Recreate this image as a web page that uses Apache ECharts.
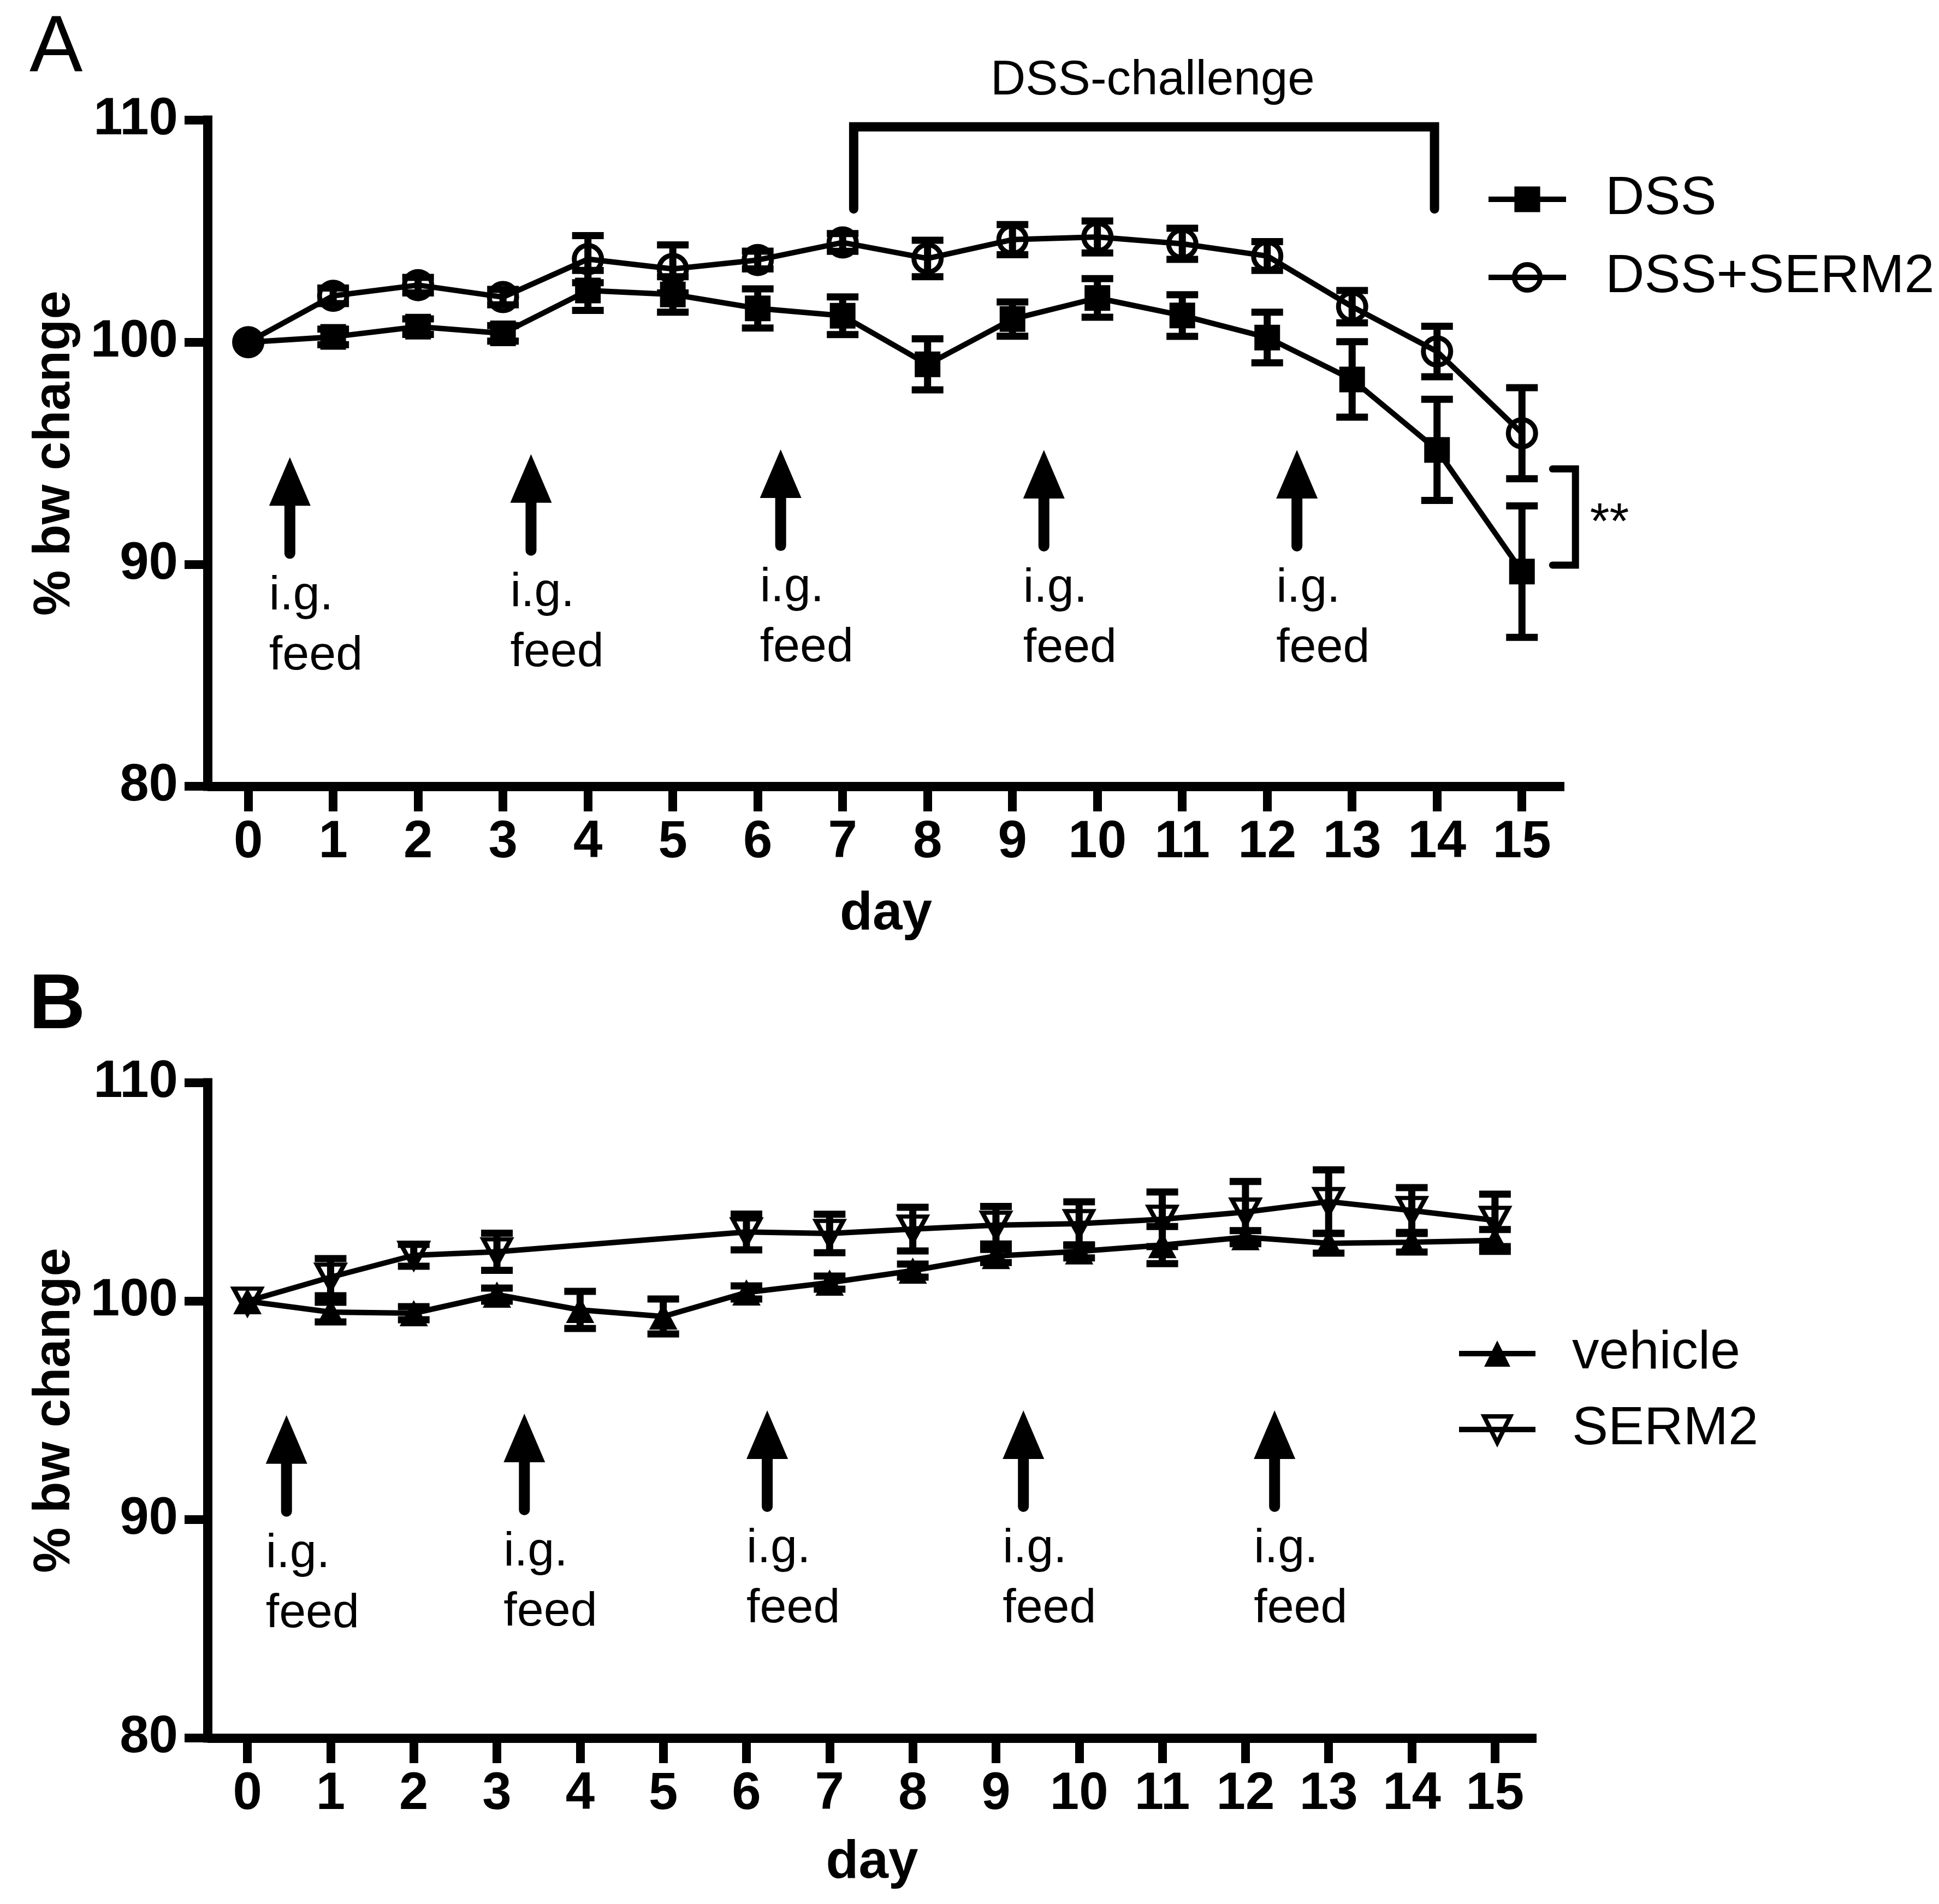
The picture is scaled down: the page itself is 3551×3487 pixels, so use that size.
<!DOCTYPE html>
<html><head><meta charset="utf-8">
<script src="https://cdn.jsdelivr.net/npm/echarts@6/dist/echarts.min.js"></script>
<style>html,body{margin:0;padding:0;background:#fff}#c{width:3551px;height:3487px}</style>
</head><body><div id="c"></div>
<script>
// ---------- data ----------
const days = [0,1,2,3,4,5,6,7,8,9,10,11,12,13,14,15];
const yTicks = [80, 90, 100, 110];

// Panel A
const dss        = [100, 100.24, 100.7, 100.4, 102.33, 102.15, 101.52, 101.19, 99.0, 101.04, 101.99, 101.2, 100.21, 98.32, 95.15, 89.67];
const dssErr     = [0, 0.35, 0.35, 0.35, 0.9, 0.8, 0.88, 0.85, 1.15, 0.77, 0.87, 0.94, 1.14, 1.7, 2.28, 2.96];
const dssSerm2   = [100, 102.09, 102.57, 102.03, 103.74, 103.3, 103.7, 104.49, 103.77, 104.62, 104.74, 104.43, 103.88, 101.6, 99.58, 95.9];
const dssSerm2Err= [0, 0.35, 0.35, 0.35, 1.06, 1.08, 0.4, 0.4, 0.82, 0.68, 0.72, 0.7, 0.65, 0.73, 1.14, 2.05];

// Panel B
const vehicle    = [100, 99.5, 99.45, 100.3, 99.6, 99.3, 100.4, 100.85, 101.4, 102.07, 102.28, 102.57, 102.93, 102.65, 102.7, 102.78];
const vehicleErr = [0, 0.45, 0.3, 0.3, 0.85, 0.8, 0.3, 0.3, 0.3, 0.3, 0.3, 0.85, 0.3, 0.45, 0.45, 0.5];
const serm2      = [100, 101.1, 102.1, 102.26, null, null, 103.17, 103.1, 103.3, 103.48, 103.55, 103.75, 104.08, 104.56, 104.15, 103.7];
const serm2Err   = [0, 0.85, 0.5, 0.85, null, null, 0.82, 0.88, 1.0, 0.86, 1.0, 1.25, 1.4, 1.45, 1.05, 1.2];

// annotations (days / values)
const arrowDaysA = [0.49, 3.33, 6.27, 9.37, 12.35];
const arrowTipsA = [94.82, 94.96, 95.17, 95.15, 95.15];
const arrowDaysB = [0.47, 3.33, 6.25, 9.33, 12.35];
const arrowTipsB = [94.78, 94.85, 95.0, 95.0, 95.0];
const challengeDays = [7.13, 13.97];
const challengeLevels = [106.0, 109.7];
const challengeLabelAt = [10.65, 111.77];
const sigBracketDays = [15.36, 15.63];
const sigBracketLevels = [89.96, 94.29];
const sigLabelAt = [15.80, 91.8];

// ---------- chart ----------
const FONT = '"Liberation Sans", Arial, Helvetica, sans-serif';
const chart = echarts.init(document.getElementById('c'), null, {width: 3551, height: 3487});

function xAxisCfg(gridIndex, nameGap) {
  return {
    type: 'value', gridIndex, min: -0.48, max: 15.5,
    name: 'day', nameLocation: 'middle', nameGap,
    nameTextStyle: {fontFamily: FONT, fontWeight: 'bold', fontSize: 98, color: '#000'},
    axisLine: {show: true, onZero: false, lineStyle: {color: '#000', width: 17, cap: 'butt'}},
    axisTick: {show: true, customValues: days, length: 46, lineStyle: {color: '#000', width: 16}},
    axisLabel: {show: true, customValues: days, fontFamily: FONT, fontWeight: 'bold', fontSize: 96, color: '#000', margin: 56},
    splitLine: {show: false}
  };
}
function yAxisCfg(gridIndex) {
  return {
    type: 'value', gridIndex, min: yTicks[0], max: yTicks[yTicks.length - 1], interval: 10,
    name: '% bw change', nameLocation: 'middle', nameGap: 232,
    nameTextStyle: {fontFamily: FONT, fontWeight: 'bold', fontSize: 94, color: '#000'},
    axisLine: {show: true, onZero: false, lineStyle: {color: '#000', width: 17, cap: 'square'}},
    axisTick: {show: true, length: 42, lineStyle: {color: '#000', width: 16}},
    axisLabel: {show: true, fontFamily: FONT, fontWeight: 'bold', fontSize: 96, color: '#000', margin: 54},
    splitLine: {show: false}
  };
}

const errData = (ys, errs) => days.map((d, i) =>
  (ys[i] == null || !errs[i]) ? null : [d, ys[i], errs[i]]).filter(Boolean);

function renderErr(params, api) {
  const x = api.value(0), y = api.value(1), e = api.value(2);
  const hi = api.coord([x, y + e]), lo = api.coord([x, y - e]);
  const w = 29;
  const st = {stroke: '#000', lineWidth: 13, lineCap: 'butt'};
  return {type: 'group', children: [
    {type: 'line', shape: {x1: hi[0], y1: hi[1], x2: lo[0], y2: lo[1]}, style: st},
    {type: 'line', shape: {x1: hi[0] - w, y1: hi[1], x2: hi[0] + w, y2: hi[1]}, style: st},
    {type: 'line', shape: {x1: lo[0] - w, y1: lo[1], x2: lo[0] + w, y2: lo[1]}, style: st}
  ]};
}

function txt(x, y, text, size, weight, align) {
  return {type: 'text', x, y, style: {text, fill: '#000', fontFamily: FONT, fontSize: size,
    fontWeight: weight || 'normal', align: align || 'left', verticalAlign: 'middle'}};
}

function arrowsAnno(api, arrowDays, arrowTips) {
  const out = [];
  arrowDays.forEach((d, i) => {
    const p = api.coord([d, arrowTips[i]]);
    const x = p[0], y = p[1];
    out.push({type: 'polygon', shape: {points: [[x, y], [x - 38, y + 89], [x + 38, y + 89]]}, style: {fill: '#000'}});
    out.push({type: 'line', shape: {x1: x, y1: y + 80, x2: x, y2: y + 176}, style: {stroke: '#000', lineWidth: 20, lineCap: 'round'}});
    out.push(txt(x - 38, y + 187 + 67, 'i.g.', 88));
    out.push(txt(x - 38, y + 187 + 177, 'feed', 88));
  });
  return out;
}

function renderAnnoA(params, api) {
  const children = arrowsAnno(api, arrowDaysA, arrowTipsA);
  const c1 = api.coord([challengeDays[0], challengeLevels[0]]);
  const c2 = api.coord([challengeDays[0], challengeLevels[1]]);
  const c3 = api.coord([challengeDays[1], challengeLevels[1]]);
  const c4 = api.coord([challengeDays[1], challengeLevels[0]]);
  children.push({type: 'polyline', shape: {points: [c1, c2, c3, c4]},
    style: {stroke: '#000', lineWidth: 17, fill: null, lineCap: 'round', lineJoin: 'miter'}});
  const cl = api.coord(challengeLabelAt);
  children.push(txt(cl[0], cl[1], 'DSS-challenge', 89, 'normal', 'center'));
  const s1 = api.coord([sigBracketDays[0], sigBracketLevels[1]]);
  const s2 = api.coord([sigBracketDays[1], sigBracketLevels[1]]);
  const s3 = api.coord([sigBracketDays[1], sigBracketLevels[0]]);
  const s4 = api.coord([sigBracketDays[0], sigBracketLevels[0]]);
  children.push({type: 'polyline', shape: {points: [s1, s2, s3, s4]},
    style: {stroke: '#000', lineWidth: 13, fill: null, lineCap: 'round', lineJoin: 'miter'}});
  const sl = api.coord(sigLabelAt);
  children.push(txt(sl[0], sl[1], '**', 92, 'normal', 'left'));
  return {type: 'group', children};
}
function renderAnnoB(params, api) {
  return {type: 'group', children: arrowsAnno(api, arrowDaysB, arrowTipsB)};
}

const lineBase = {type: 'line', showSymbol: true, showAllSymbol: true, animation: false, silent: true,
  lineStyle: {color: '#000', width: 10}, emphasis: {disabled: true}, z: 3};

const legendText = {fontFamily: FONT, fontSize: 99, color: '#000', lineHeight: 100};

const option = {
  backgroundColor: '#fff',
  animation: false,
  grid: [
    {left: 380, top: 220, width: 2485, height: 1220},
    {left: 380, top: 1983, width: 2434, height: 1200}
  ],
  xAxis: [xAxisCfg(0, 186), xAxisCfg(1, 180)],
  yAxis: [yAxisCfg(0), yAxisCfg(1)],
  legend: [
    {data: [
       {name: 'DSS', itemStyle: {color: '#000', borderWidth: 0}},
       {name: 'DSS+SERM2', itemStyle: {color: 'rgba(0,0,0,0)', borderColor: '#000', borderWidth: 9}}
     ],
     left: 2716, top: 310, orient: 'vertical', selectedMode: false,
     itemWidth: 142, itemHeight: 59, itemGap: 43,
     lineStyle: {color: '#000', width: 10},
     textStyle: Object.assign({padding: [0, 0, 0, 67]}, legendText)},
    {data: [
       {name: 'vehicle', itemStyle: {color: '#000', borderWidth: 0}},
       {name: 'SERM2', itemStyle: {color: 'rgba(0,0,0,0)', borderColor: '#000', borderWidth: 8}}
     ],
     left: 2662, top: 2424, orient: 'vertical', selectedMode: false,
     itemWidth: 140, itemHeight: 60, itemGap: 39,
     lineStyle: {color: '#000', width: 10},
     textStyle: Object.assign({padding: [0, 0, 0, 62]}, legendText)}
  ],
  graphic: [
    {type: 'text', left: 54, top: 18, style: {text: 'A', fontFamily: FONT, fontSize: 146, fontWeight: 'normal', fill: '#000'}},
    {type: 'text', left: 53, top: 1772, style: {text: 'B', fontFamily: FONT, fontSize: 143, fontWeight: 'bold', fill: '#000'}}
  ],
  series: [
    {type: 'custom', name: 'errA', xAxisIndex: 0, yAxisIndex: 0, z: 2, silent: true,
     data: errData(dss, dssErr).concat(errData(dssSerm2, dssSerm2Err)), renderItem: renderErr},
    Object.assign({}, lineBase, {name: 'DSS', xAxisIndex: 0, yAxisIndex: 0,
     symbol: 'rect', symbolSize: 47, itemStyle: {color: '#000'},
     data: days.map((d, i) => i === 0 ? {value: [d, dss[i]], symbol: 'circle', symbolSize: 58} : [d, dss[i]])}),
    Object.assign({}, lineBase, {name: 'DSS+SERM2', xAxisIndex: 0, yAxisIndex: 0,
     symbol: 'circle', symbolSize: 50, itemStyle: {color: 'rgba(0,0,0,0)', borderColor: '#000', borderWidth: 9},
     data: days.map((d, i) => [d, dssSerm2[i]])}),
    {type: 'custom', name: 'annoA', xAxisIndex: 0, yAxisIndex: 0, z: 5, silent: true, clip: false,
     data: [[0, 100]], renderItem: renderAnnoA},

    {type: 'custom', name: 'errB', xAxisIndex: 1, yAxisIndex: 1, z: 2, silent: true,
     data: errData(vehicle, vehicleErr).concat(errData(serm2, serm2Err)), renderItem: renderErr},
    Object.assign({}, lineBase, {name: 'vehicle', xAxisIndex: 1, yAxisIndex: 1,
     symbol: 'triangle', symbolSize: [52, 48], itemStyle: {color: '#000'},
     data: days.map((d, i) => [d, vehicle[i]])}),
    Object.assign({}, lineBase, {name: 'SERM2', xAxisIndex: 1, yAxisIndex: 1, connectNulls: true,
     symbol: 'path://M0,0L10,0L5,9Z', symbolSize: [50, 46],
     itemStyle: {color: 'rgba(0,0,0,0)', borderColor: '#000', borderWidth: 8},
     data: days.map((d, i) => [d, serm2[i] == null ? '-' : serm2[i]])}),
    {type: 'custom', name: 'annoB', xAxisIndex: 1, yAxisIndex: 1, z: 5, silent: true, clip: false,
     data: [[0, 100]], renderItem: renderAnnoB}
  ]
};
chart.setOption(option);
</script>
</body></html>
